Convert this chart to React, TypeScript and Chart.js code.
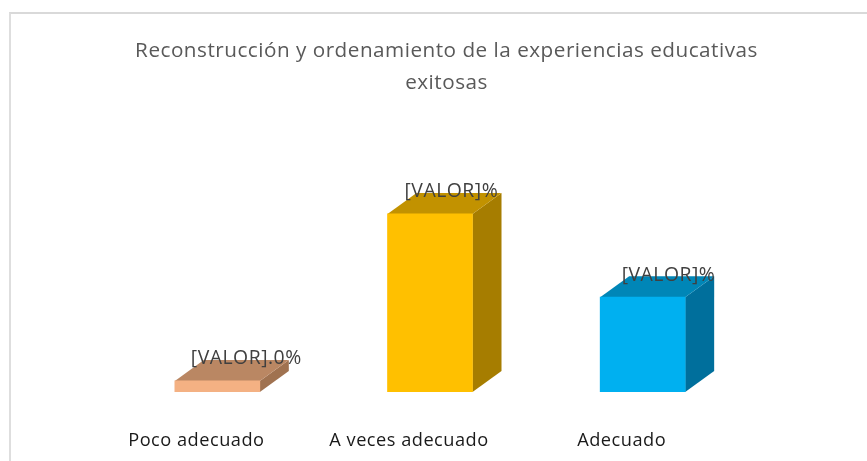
import React, { useEffect, useRef } from "react";
import { Chart, registerables } from "chart.js";

Chart.register(...registerables);

const titleLines = ["Reconstrucción y ordenamiento de la experiencias educativas", "exitosas"];
const categories = ["Poco adecuado", "A veces adecuado", "Adecuado"];
const values = [3.9, 62.7, 33.4];
const valueLabels = ["[VALOR].0%", "[VALOR]%", "[VALOR]%"];
const frontColors = ["#F4B183", "#FFC000", "#00B0F0"];
const topColors = ["#BA8763", "#C29200", "#0086B7"];
const sideColors = ["#A07250", "#A67D00", "#006F9C"];
const labelShift = [-26.5, -25.5, -21];

const DEPTH_X = 29;
const DEPTH_Y = 21;

const bars3d = {
  id: "bars3d",
  beforeDraw(chart: any) {
    chart.ctx.letterSpacing = "0.5px";
  },
  beforeDatasetsDraw(chart: any) {
    const ctx = chart.ctx;
    chart.getDatasetMeta(0).data.forEach((bar: any, i: number) => {
      const w = bar.width / 2;
      const l = bar.x - w;
      const r = bar.x + w;
      const t = bar.y;
      const b = bar.base;
      ctx.save();
      ctx.fillStyle = sideColors[i];
      ctx.beginPath();
      ctx.moveTo(r, t);
      ctx.lineTo(r + DEPTH_X, t - DEPTH_Y);
      ctx.lineTo(r + DEPTH_X, b - DEPTH_Y);
      ctx.lineTo(r, b);
      ctx.closePath();
      ctx.fill();
      ctx.fillStyle = topColors[i];
      ctx.beginPath();
      ctx.moveTo(l, t);
      ctx.lineTo(l + DEPTH_X, t - DEPTH_Y);
      ctx.lineTo(r + DEPTH_X, t - DEPTH_Y);
      ctx.lineTo(r, t);
      ctx.closePath();
      ctx.fill();
      ctx.restore();
    });
  },
  afterDatasetsDraw(chart: any) {
    const ctx = chart.ctx;
    chart.getDatasetMeta(0).data.forEach((bar: any, i: number) => {
      ctx.save();
      ctx.font = "19.4px 'Open Sans'";
      ctx.fillStyle = "#404040";
      ctx.textAlign = "left";
      ctx.textBaseline = "middle";
      ctx.fillText(valueLabels[i], bar.x + labelShift[i], bar.y - 22);
      ctx.restore();
    });
  },
};

export default function App() {
  const ref = useRef<HTMLCanvasElement>(null);
  useEffect(() => {
    const chart = new Chart(ref.current as HTMLCanvasElement, {
      type: "bar",
      data: {
        labels: categories,
        datasets: [
          {
            data: values,
            backgroundColor: frontColors,
            barThickness: 85,
            borderWidth: 0,
          },
        ],
      },
      plugins: [bars3d],
      options: {
        responsive: false,
        animation: false,
        events: [],
        layout: { padding: { left: 26, right: 0, top: 0, bottom: 0 } },
        plugins: {
          legend: { display: false },
          tooltip: { enabled: false },
          title: {
            display: true,
            text: titleLines,
            color: "#595959",
            font: { family: "'Open Sans'", size: 20.7, weight: "normal", lineHeight: 1.546 },
            padding: { top: 35, bottom: 9 },
          },
        },
        scales: {
          x: {
            grid: { display: false },
            border: { display: false },
            ticks: {
              color: "#1A1A1A",
              font: { family: "'Open Sans'", size: 18.2 },
              padding: 29.5,
              labelOffset: -21,
              maxRotation: 0,
            },
            afterFit(s: any) {
              s.height = 69;
            },
          },
          y: {
            min: 0,
            max: 100,
            grid: { display: false },
            border: { display: false },
            ticks: { display: false },
            afterFit(s: any) {
              s.width = 85;
            },
          },
          spacer: {
            type: "linear",
            axis: "y",
            position: "right",
            grid: { display: false },
            border: { display: false },
            ticks: { display: false },
            afterFit(s: any) {
              s.width = 118;
            },
          },
        },
      } as any,
    });
    return () => chart.destroy();
  }, []);
  return (
    <div style={{ position: "absolute", left: 0, top: 0, width: 867, height: 461, background: "#fff", overflow: "hidden" }}>
      <div style={{ position: "absolute", left: 9, top: 12, width: 870, height: 460, borderLeft: "2px solid #DEDEDE", borderTop: "2px solid #D9D9D9", boxSizing: "content-box" }} />
      <canvas ref={ref} width={867} height={461} style={{ position: "absolute", left: 0, top: 0, display: "block" }} />
    </div>
  );
}
